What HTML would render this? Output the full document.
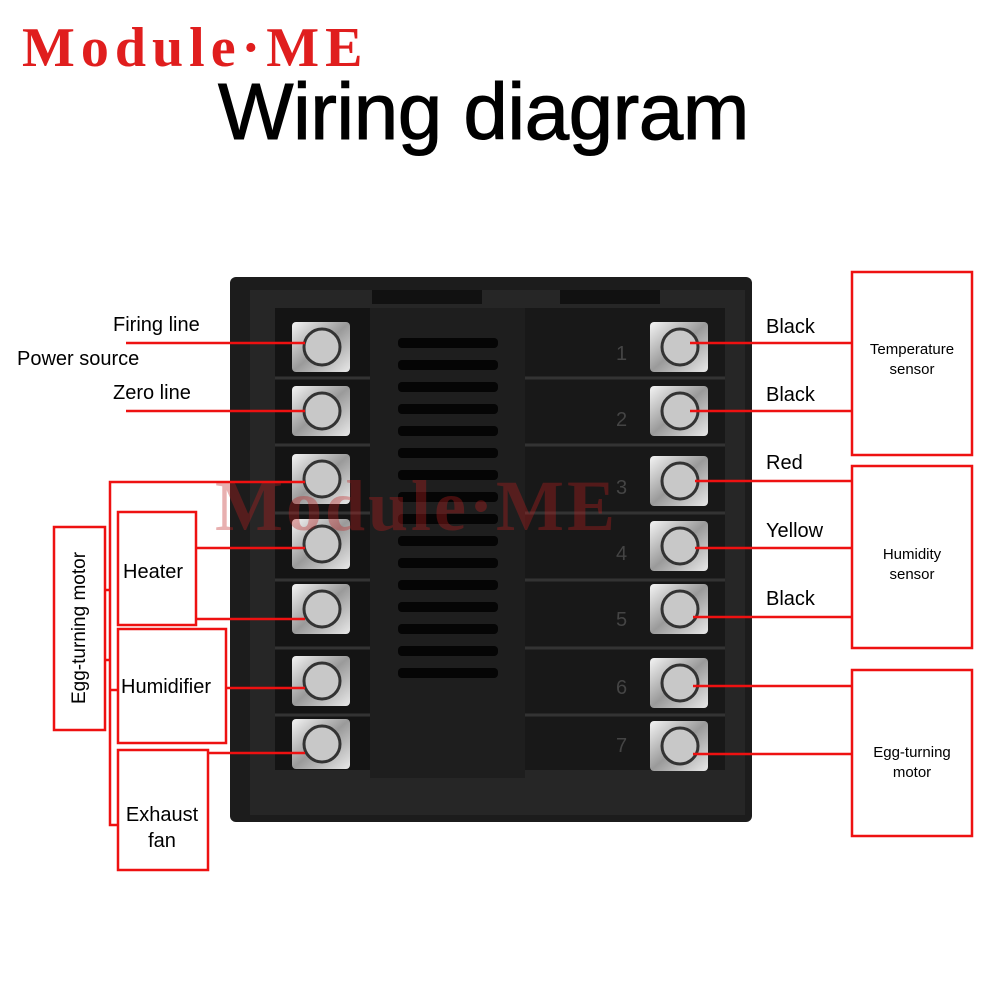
<!DOCTYPE html>
<html><head><meta charset="utf-8"><style>
body{margin:0;width:1000px;height:1000px;background:#fff;position:relative;overflow:hidden;font-family:"Liberation Sans",sans-serif}
.t{position:absolute;color:#000;white-space:nowrap}
</style></head><body>
<div class="t" style="left:22px;top:16px;font-family:'Liberation Serif',serif;font-weight:bold;font-size:56px;color:#e01e1e;letter-spacing:6px">Module·ME</div>
<div class="t" style="left:218px;top:66px;font-size:80px;letter-spacing:-0.5px;-webkit-text-stroke:1px #000">Wiring diagram</div>

<svg width="1000" height="1000" style="position:absolute;left:0;top:0">
<defs>
<linearGradient id="sc" x1="0" y1="0" x2="1" y2="1"><stop offset="0" stop-color="#f4f4f4"/><stop offset=".5" stop-color="#9a9a9a"/><stop offset="1" stop-color="#e8e8e8"/></linearGradient>
</defs>
<rect x="230" y="277" width="522" height="545" rx="6" fill="#1c1c1c"/>
<rect x="250" y="290" width="495" height="525" fill="#262626"/>
<rect x="372" y="290" width="110" height="14" fill="#111"/>
<rect x="560" y="290" width="100" height="14" fill="#111"/>
<rect x="275" y="308" width="95" height="462" fill="#141414"/>
<rect x="370" y="308" width="155" height="470" fill="#1e1e1e"/>
<rect x="525" y="308" width="200" height="462" fill="#181818"/>
<g fill="#050505">
<rect x="398" y="338" width="100" height="10" rx="4"/><rect x="398" y="360" width="100" height="10" rx="4"/><rect x="398" y="382" width="100" height="10" rx="4"/><rect x="398" y="404" width="100" height="10" rx="4"/><rect x="398" y="426" width="100" height="10" rx="4"/><rect x="398" y="448" width="100" height="10" rx="4"/><rect x="398" y="470" width="100" height="10" rx="4"/><rect x="398" y="492" width="100" height="10" rx="4"/><rect x="398" y="514" width="100" height="10" rx="4"/><rect x="398" y="536" width="100" height="10" rx="4"/><rect x="398" y="558" width="100" height="10" rx="4"/><rect x="398" y="580" width="100" height="10" rx="4"/><rect x="398" y="602" width="100" height="10" rx="4"/><rect x="398" y="624" width="100" height="10" rx="4"/><rect x="398" y="646" width="100" height="10" rx="4"/><rect x="398" y="668" width="100" height="10" rx="4"/>
</g>
<g stroke="#333" stroke-width="3">
<line x1="525" y1="378" x2="725" y2="378"/><line x1="525" y1="445" x2="725" y2="445"/><line x1="525" y1="513" x2="725" y2="513"/><line x1="525" y1="580" x2="725" y2="580"/><line x1="525" y1="648" x2="725" y2="648"/><line x1="525" y1="715" x2="725" y2="715"/>
<line x1="275" y1="378" x2="370" y2="378"/><line x1="275" y1="445" x2="370" y2="445"/><line x1="275" y1="513" x2="370" y2="513"/><line x1="275" y1="580" x2="370" y2="580"/><line x1="275" y1="648" x2="370" y2="648"/><line x1="275" y1="715" x2="370" y2="715"/>
</g>
<g>
<g><rect x="292" y="322" width="58" height="50" rx="4" fill="url(#sc)"/><circle cx="322" cy="347" r="18" fill="#c8c8c8" stroke="#333" stroke-width="3"/></g>
<g><rect x="292" y="386" width="58" height="50" rx="4" fill="url(#sc)"/><circle cx="322" cy="411" r="18" fill="#c8c8c8" stroke="#333" stroke-width="3"/></g>
<g><rect x="292" y="454" width="58" height="50" rx="4" fill="url(#sc)"/><circle cx="322" cy="479" r="18" fill="#c8c8c8" stroke="#333" stroke-width="3"/></g>
<g><rect x="292" y="519" width="58" height="50" rx="4" fill="url(#sc)"/><circle cx="322" cy="544" r="18" fill="#c8c8c8" stroke="#333" stroke-width="3"/></g>
<g><rect x="292" y="584" width="58" height="50" rx="4" fill="url(#sc)"/><circle cx="322" cy="609" r="18" fill="#c8c8c8" stroke="#333" stroke-width="3"/></g>
<g><rect x="292" y="656" width="58" height="50" rx="4" fill="url(#sc)"/><circle cx="322" cy="681" r="18" fill="#c8c8c8" stroke="#333" stroke-width="3"/></g>
<g><rect x="292" y="719" width="58" height="50" rx="4" fill="url(#sc)"/><circle cx="322" cy="744" r="18" fill="#c8c8c8" stroke="#333" stroke-width="3"/></g>
</g>
<g transform="translate(358,0)">
<g><rect x="292" y="322" width="58" height="50" rx="4" fill="url(#sc)"/><circle cx="322" cy="347" r="18" fill="#c8c8c8" stroke="#333" stroke-width="3"/></g>
<g><rect x="292" y="386" width="58" height="50" rx="4" fill="url(#sc)"/><circle cx="322" cy="411" r="18" fill="#c8c8c8" stroke="#333" stroke-width="3"/></g>
<g><rect x="292" y="456" width="58" height="50" rx="4" fill="url(#sc)"/><circle cx="322" cy="481" r="18" fill="#c8c8c8" stroke="#333" stroke-width="3"/></g>
<g><rect x="292" y="521" width="58" height="50" rx="4" fill="url(#sc)"/><circle cx="322" cy="546" r="18" fill="#c8c8c8" stroke="#333" stroke-width="3"/></g>
<g><rect x="292" y="584" width="58" height="50" rx="4" fill="url(#sc)"/><circle cx="322" cy="609" r="18" fill="#c8c8c8" stroke="#333" stroke-width="3"/></g>
<g><rect x="292" y="658" width="58" height="50" rx="4" fill="url(#sc)"/><circle cx="322" cy="683" r="18" fill="#c8c8c8" stroke="#333" stroke-width="3"/></g>
<g><rect x="292" y="721" width="58" height="50" rx="4" fill="url(#sc)"/><circle cx="322" cy="746" r="18" fill="#c8c8c8" stroke="#333" stroke-width="3"/></g>
</g>
<g font-family="Liberation Sans" font-size="20" fill="#444">
<text x="616" y="360">1</text><text x="616" y="426">2</text><text x="616" y="494">3</text><text x="616" y="560">4</text><text x="616" y="626">5</text><text x="616" y="694">6</text><text x="616" y="752">7</text>
</g>
<text x="215" y="530" font-family="Liberation Serif" font-weight="bold" font-size="72" fill="#c02020" opacity="0.35" letter-spacing="3">Module·ME</text>

<g stroke="#ee1111" stroke-width="2.5" fill="none">
<line x1="126" y1="343" x2="305" y2="343"/>
<line x1="126" y1="411" x2="305" y2="411"/>
<polyline points="305,482 110,482 110,825 118,825"/>
<line x1="105" y1="590" x2="110" y2="590"/><line x1="105" y1="660" x2="110" y2="660"/>
<line x1="110" y1="690" x2="118" y2="690"/>
<line x1="196" y1="548" x2="305" y2="548"/>
<line x1="196" y1="619" x2="305" y2="619"/>
<line x1="226" y1="688" x2="305" y2="688"/>
<line x1="208" y1="753" x2="305" y2="753"/>
<rect x="54" y="527" width="51" height="203"/>
<rect x="118" y="512" width="78" height="113"/>
<rect x="118" y="629" width="108" height="114"/>
<rect x="118" y="750" width="90" height="120"/>
<line x1="690" y1="343" x2="852" y2="343"/>
<line x1="690" y1="411" x2="852" y2="411"/>
<line x1="695" y1="481" x2="852" y2="481"/>
<line x1="695" y1="548" x2="852" y2="548"/>
<line x1="693" y1="617" x2="852" y2="617"/>
<line x1="693" y1="686" x2="852" y2="686"/>
<line x1="693" y1="754" x2="852" y2="754"/>
<rect x="852" y="272" width="120" height="183"/>
<rect x="852" y="466" width="120" height="182"/>
<rect x="852" y="670" width="120" height="166"/>
</g>
</svg>

<div class="t" style="left:113px;top:314px;font-size:20px">Firing line</div>
<div class="t" style="left:17px;top:348px;font-size:20px">Power source</div>
<div class="t" style="left:113px;top:382px;font-size:20px">Zero line</div>
<div class="t" style="left:123px;top:561px;font-size:20px">Heater</div>
<div class="t" style="left:121px;top:676px;font-size:20px">Humidifier</div>
<div class="t" style="left:122px;top:802px;font-size:20px;text-align:center;width:80px;white-space:normal;line-height:26px">Exhaust fan</div>
<div class="t" style="left:80px;top:628px;font-size:19px;transform:translate(-50%,-50%) rotate(-90deg)">Egg-turning motor</div>
<div class="t" style="left:766px;top:316px;font-size:20px">Black</div>
<div class="t" style="left:766px;top:384px;font-size:20px">Black</div>
<div class="t" style="left:766px;top:452px;font-size:20px">Red</div>
<div class="t" style="left:766px;top:520px;font-size:20px">Yellow</div>
<div class="t" style="left:766px;top:588px;font-size:20px">Black</div>
<div class="t" style="left:862px;top:340px;width:100px;text-align:center;font-size:15px;line-height:20px;white-space:normal">Temperature sensor</div>
<div class="t" style="left:862px;top:545px;width:100px;text-align:center;font-size:15px;line-height:20px;white-space:normal">Humidity sensor</div>
<div class="t" style="left:862px;top:743px;width:100px;text-align:center;font-size:15px;line-height:20px;white-space:normal">Egg-turning motor</div>
</body></html>
